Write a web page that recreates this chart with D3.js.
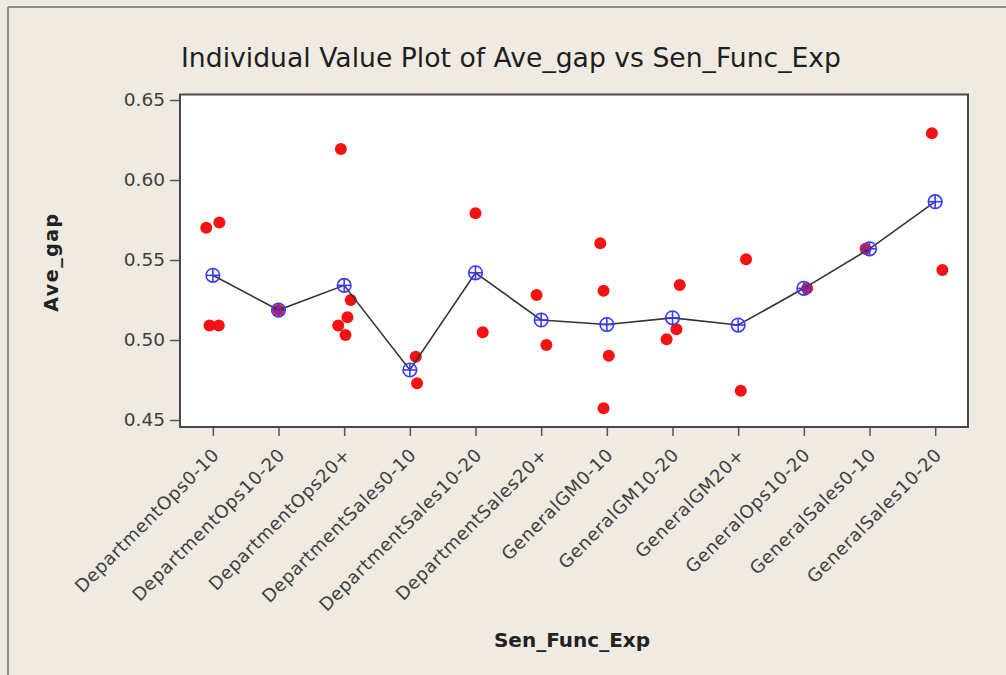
<!DOCTYPE html>
<html>
<head>
<meta charset="utf-8">
<script src="https://cdn.jsdelivr.net/npm/d3@7"></script>
<style>
  html, body { margin: 0; padding: 0; background: #efebe2; }
  svg { display: block; }
</style>
</head>
<body>
<svg id="chart" width="1006" height="675"></svg>
<script>
// Sen_Func_Exp groups, in plotting order
const categories = [
  "DepartmentOps0-10", "DepartmentOps10-20", "DepartmentOps20+",
  "DepartmentSales0-10", "DepartmentSales10-20", "DepartmentSales20+",
  "GeneralGM0-10", "GeneralGM10-20", "GeneralGM20+",
  "GeneralOps10-20", "GeneralSales0-10", "GeneralSales10-20"
];

// Individual Ave_gap observations per group
const aveGap = [
  [0.5702, 0.5735, 0.5090, 0.5090],
  [0.5187],
  [0.6194, 0.5250, 0.5142, 0.5090, 0.5031],
  [0.4896, 0.4729],
  [0.5792, 0.5048],
  [0.5281, 0.4969],
  [0.5604, 0.5308, 0.4902, 0.4573],
  [0.5344, 0.5067, 0.5004],
  [0.5504, 0.4683],
  [0.5323],
  [0.5570],
  [0.6292, 0.5437]
];

// Horizontal jitter of each observation, as a fraction of the group spacing
const jitter = [
  [-0.10, 0.10, -0.05, 0.09],
  [0.00],
  [-0.05, 0.10, 0.05, -0.09, 0.02],
  [0.09, 0.11],
  [0.00, 0.11],
  [-0.07, 0.08],
  [-0.10, -0.05, 0.03, -0.05],
  [0.11, 0.06, -0.09],
  [0.12, 0.04],
  [0.05],
  [-0.06],
  [-0.05, 0.11]
];

const yTicks = [0.45, 0.50, 0.55, 0.60, 0.65];

const svg = d3.select("#chart");

// outer panel edges
svg.append("line").attr("x1", 8).attr("y1", 7).attr("x2", 1006).attr("y2", 7)
  .attr("stroke", "#8c8c8c").attr("stroke-width", 2);
svg.append("line").attr("x1", 8).attr("y1", 7).attr("x2", 8).attr("y2", 675)
  .attr("stroke", "#8c8c8c").attr("stroke-width", 2);

const frame = { left: 180, right: 968, top: 94.5, bottom: 427 };

const x = d3.scalePoint().domain(categories)
  .range([frame.left, frame.right]).padding(0.5);
const y = d3.scaleLinear().domain([0.45, 0.65]).range([420, 100]);

// data region
svg.append("rect")
  .attr("x", frame.left).attr("y", frame.top)
  .attr("width", frame.right - frame.left).attr("height", frame.bottom - frame.top)
  .attr("fill", "#ffffff").attr("stroke", "#4a4a4a").attr("stroke-width", 2);

// Y axis
const yAxis = svg.append("g")
  .attr("transform", `translate(${frame.left - 1},0)`)
  .call(d3.axisLeft(y).tickValues(yTicks).tickFormat(d3.format(".2f"))
    .tickSize(9).tickSizeOuter(0).tickPadding(5));
yAxis.select(".domain").remove();
yAxis.selectAll(".tick line").attr("stroke", "#555").attr("stroke-width", 1.5);
yAxis.selectAll(".tick text")
  .attr("font-family", "DejaVu Sans, Verdana, sans-serif")
  .attr("font-size", 18.5).attr("fill", "#404040");

// X axis
const xAxis = svg.append("g")
  .attr("transform", `translate(0,${frame.bottom + 1})`)
  .call(d3.axisBottom(x).tickSize(8).tickSizeOuter(0));
xAxis.select(".domain").remove();
xAxis.selectAll(".tick line").attr("stroke", "#555").attr("stroke-width", 1.5);
xAxis.selectAll(".tick text")
  .attr("font-family", "DejaVu Sans, Verdana, sans-serif")
  .attr("font-size", 18).attr("letter-spacing", 0.6).attr("fill", "#404040")
  .attr("text-anchor", "end")
  .attr("y", 0).attr("dy", 0)
  .attr("transform", "translate(7,28) rotate(-45)");

// individual values
const points = [];
aveGap.forEach((vals, i) => vals.forEach((v, j) => {
  points.push({ cat: categories[i], value: v, jit: jitter[i][j] });
}));

svg.append("g").selectAll("circle").data(points).join("circle")
  .attr("cx", d => x(d.cat) + d.jit * x.step())
  .attr("cy", d => y(d.value))
  .attr("r", 6)
  .attr("fill", "#f51212");

// group means joined by a line
const means = categories.map((c, i) => ({ cat: c, value: d3.mean(aveGap[i]) }));

svg.append("path").datum(means)
  .attr("fill", "none").attr("stroke", "#333").attr("stroke-width", 1.6)
  .attr("d", d3.line().x(d => x(d.cat)).y(d => y(d.value)));

const mk = svg.append("g").selectAll("g").data(means).join("g")
  .attr("transform", d => `translate(${x(d.cat)},${y(d.value)})`)
  .attr("stroke", "#3a3aff").attr("stroke-width", 1.6).attr("fill", "none");
mk.append("circle").attr("r", 6.8);
mk.append("line").attr("x1", -6.8).attr("x2", 6.8).attr("y1", 0).attr("y2", 0);
mk.append("line").attr("x1", 0).attr("x2", 0).attr("y1", -6.8).attr("y2", 6.8);

// titles
svg.append("text")
  .attr("x", 511).attr("y", 67)
  .attr("text-anchor", "middle")
  .attr("font-family", "DejaVu Sans, Verdana, sans-serif")
  .attr("font-size", 27).attr("fill", "#1e1e1e")
  .attr("textLength", 660).attr("lengthAdjust", "spacingAndGlyphs")
  .text("Individual Value Plot of Ave_gap vs Sen_Func_Exp");

svg.append("text")
  .attr("transform", "translate(58,262) rotate(-90)")
  .attr("text-anchor", "middle")
  .attr("font-family", "DejaVu Sans, Verdana, sans-serif")
  .attr("font-weight", "bold")
  .attr("font-size", 19).attr("letter-spacing", 1.5).attr("fill", "#222")
  .text("Ave_gap");

svg.append("text")
  .attr("x", 572).attr("y", 647)
  .attr("text-anchor", "middle")
  .attr("font-family", "DejaVu Sans, Verdana, sans-serif")
  .attr("font-weight", "bold")
  .attr("font-size", 20).attr("fill", "#222")
  .text("Sen_Func_Exp");
</script>
</body>
</html>
